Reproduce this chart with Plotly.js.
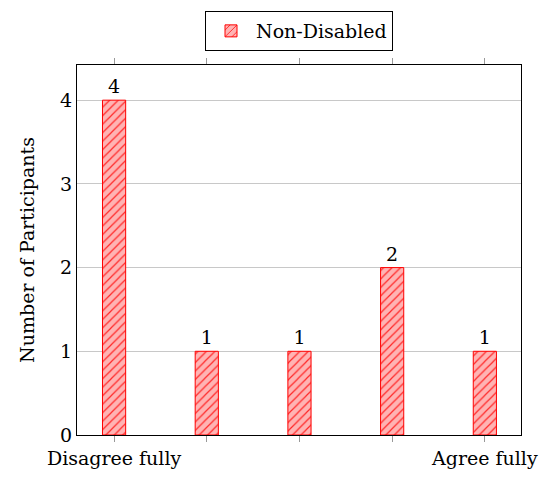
<!DOCTYPE html>
<html><head><meta charset="utf-8">
<script src="https://cdn.plot.ly/plotly-3.0.1.min.js"></script>
<style>body{margin:0;padding:0;background:#fff}#c{width:551px;height:479px}</style>
</head><body><div id="c"></div>
<script>
const positions = [1, 2, 3, 4, 5];
const values = [4, 1, 1, 2, 1];
const tickLabels = ['Disagree fully', '', '', '', 'Agree fully'];
const seriesName = 'Non-Disabled';
const yTicks = [0, 1, 2, 3, 4];

const font = {family: 'DejaVu Serif', size: 19, color: '#000'};
const trace = {
  type: 'bar', x: positions, y: values, name: seriesName,
  width: 0.25,
  text: values.map(String), textposition: 'outside', cliponaxis: false,
  textfont: font,
  marker: {
    color: 'rgb(255,179,179)',
    pattern: {shape: '/', fgcolor: 'rgb(255,40,40)', bgcolor: 'rgb(255,179,179)', size: 6, solidity: 0.2, fillmode: 'replace'},
    line: {color: 'rgb(255,0,0)', width: 1}
  }
};
const layout = {
  width: 551, height: 479,
  margin: {l: 77, r: 30, t: 64, b: 44},
  paper_bgcolor: '#fff', plot_bgcolor: '#fff',
  font: font,
  showlegend: true,
  legend: {x: 0.5, xanchor: 'center', y: 1.035, yanchor: 'bottom', orientation: 'h',
    bordercolor: '#000', borderwidth: 1, font: font, bgcolor: '#fff', itemwidth: 40},
  xaxis: {range: [0.6, 5.39], tickvals: positions, ticktext: tickLabels,
    ticks: 'outside', ticklen: 6, tickcolor: '#999', showgrid: false,
    showline: true, linecolor: '#000', linewidth: 1, mirror: 'ticks', zeroline: false,
    tickfont: font},
  yaxis: {range: [0, 4.42], tickvals: yTicks, ticks: '', showgrid: true, gridcolor: '#c8c8c8',
    showline: true, linecolor: '#000', linewidth: 1, mirror: true, zeroline: false,
    tickfont: font,
    title: {text: 'Number of Participants', font: font, standoff: 20}},
  bargap: 0
};
Plotly.newPlot('c', [trace], layout, {displayModeBar: false, staticPlot: true});
</script></body></html>
